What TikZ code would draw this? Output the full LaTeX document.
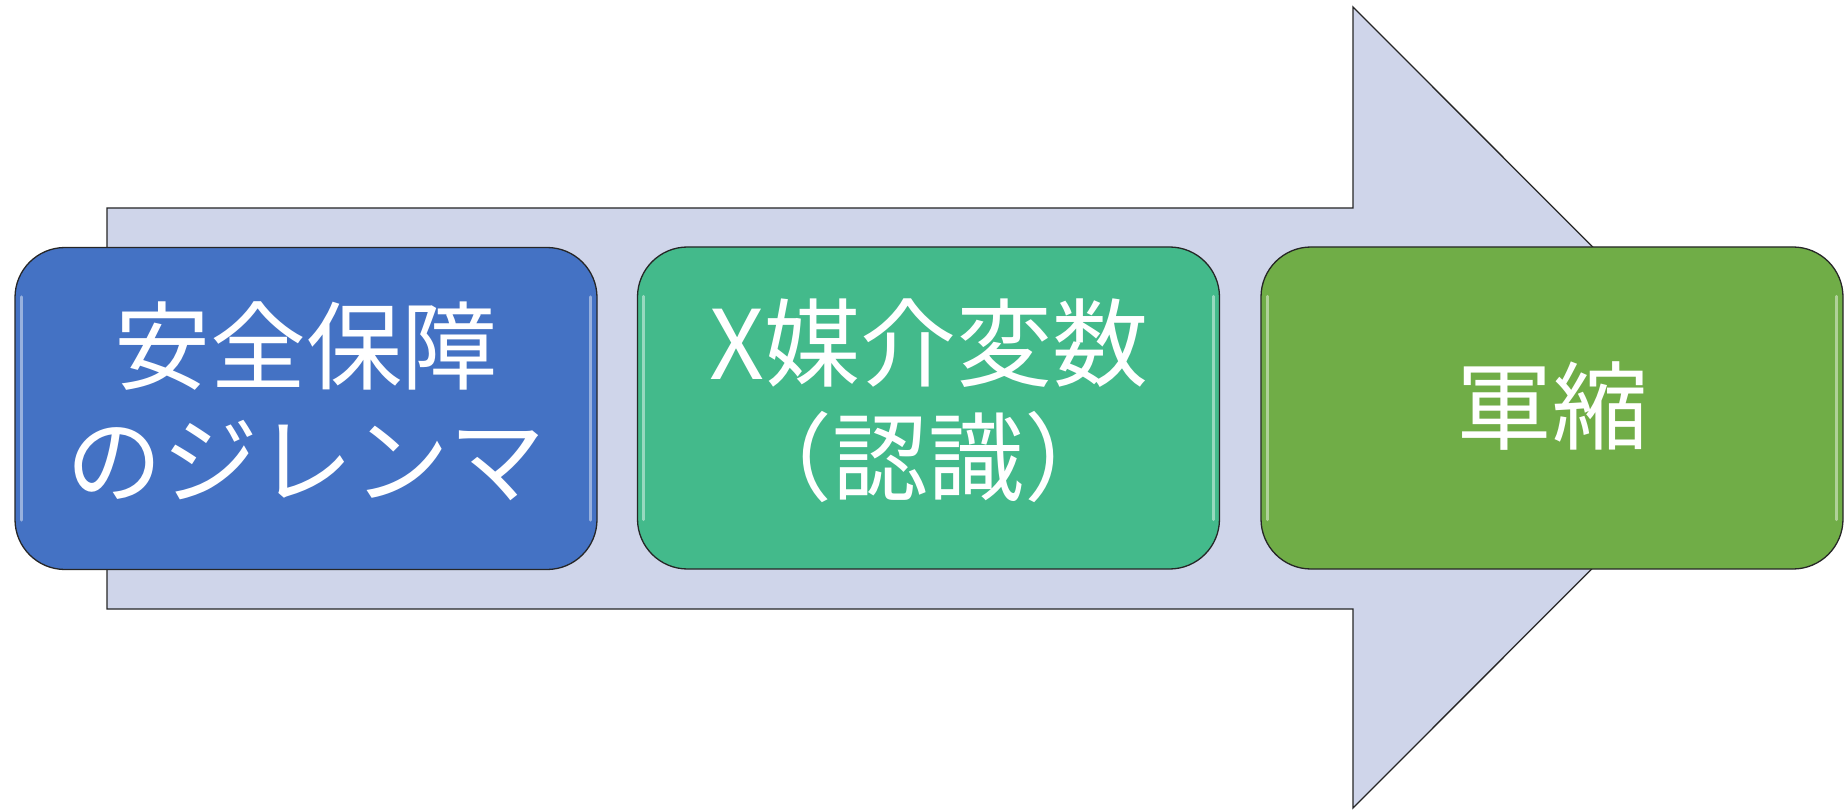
\documentclass[tikz,border=0pt]{standalone}
\usepackage{fontspec}
\newfontfamily\cjk{Noto Sans CJK JP}
\definecolor{arrowfill}{HTML}{CFD5EA}
\definecolor{boxblue}{HTML}{4472C4}
\definecolor{boxteal}{HTML}{43BA8B}
\definecolor{boxgreen}{HTML}{70AD47}
\tikzset{
  stagebox/.style={rectangle, rounded corners=50pt, draw=black!85, line width=1.3pt,
    minimum width=582pt, minimum height=322pt, inner sep=0pt},
  stagetext/.style={align=center, text=white, inner sep=0pt,
    font=\cjk\fontsize{96}{114}\selectfont},
  bevel/.style={draw=white, opacity=0.45, line width=3pt, line cap=round},
  bigarrow/.style={fill=arrowfill, draw=black!85, line width=1.3pt, line join=miter}
}
\begin{document}
\begin{tikzpicture}[x=1pt,y=-1pt]
\useasboundingbox (0,0) rectangle (1848,810);
\draw[bigarrow] (107,208) -- (1353,208) -- (1353,7) -- (1753,407.5) -- (1353,808) -- (1353,609) -- (107,609) -- cycle;
\node[stagebox, fill=boxblue] (b1) at (306,408.5) {};
\node[stagebox, fill=boxteal] (b2) at (928.5,408) {};
\node[stagebox, fill=boxgreen] (b3) at (1552,408) {};
\foreach \b in {b1,b2,b3}{
  \draw[bevel] ([shift={(7pt,-50pt)}]\b.north west) -- ([shift={(7pt,50pt)}]\b.south west);
  \draw[bevel] ([shift={(-7pt,-50pt)}]\b.north east) -- ([shift={(-7pt,50pt)}]\b.south east);
}
\node[stagetext] (t1) at ([yshift=7pt]b1.center) {安全保障\\のジレンマ};
\node[stagetext] (t2) at ([yshift=7pt]b2.center) {X媒介変数\\（認識）};
\node[stagetext] (t3) at ([yshift=2pt]b3.center) {軍縮};
\end{tikzpicture}
\end{document}
